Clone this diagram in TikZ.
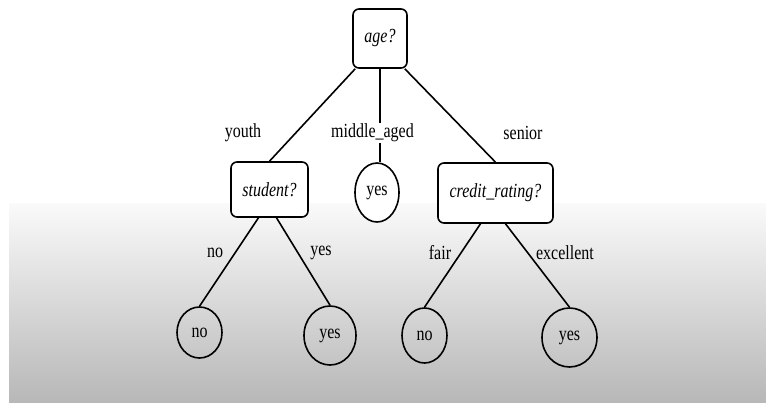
\documentclass[tikz,border=0pt]{standalone}
\usepackage{fontspec}
\setmainfont{Liberation Serif}[FakeStretch=0.8]
\usetikzlibrary{shapes.geometric}
\begin{document}
\begin{tikzpicture}[x=1pt,y=-1pt,
  every node/.style={font=\fontsize{20}{22}\selectfont},
  testbox/.style={draw,fill=white,line width=1.6pt,rounded corners=6pt,inner sep=0pt,font=\fontsize{20}{22}\selectfont\itshape},
  leaf/.style={draw,ellipse,line width=1.6pt,inner sep=0pt},
  lbl/.style={inner sep=1pt},
  edge/.style={line width=1.6pt}]
\useasboundingbox (0,0) rectangle (766,402);
\shade[top color=white!98!black,bottom color=black!28] (9,203) rectangle (766,402);
% internal nodes
\node[testbox,minimum width=54,minimum height=59] (age) at (380,38.5) {age?};
\node[testbox,minimum width=77,minimum height=55] (student) at (269.5,189.5) {student?};
\node[testbox,minimum width=115,minimum height=60] (credit) at (495.5,193) {credit\_rating?};
% leaves
\node[leaf,fill=white,minimum width=44,minimum height=59] (yesm) at (377,192.5) {yes};
\node[leaf,minimum width=45,minimum height=51] (no1) at (199.5,332.5) {no};
\node[leaf,minimum width=52,minimum height=59] (yes1) at (330,335.5) {yes};
\node[leaf,minimum width=45,minimum height=55] (no2) at (424.5,335.5) {no};
\node[leaf,minimum width=55,minimum height=59] (yes2) at (569.5,337.5) {yes};
% labels
\node[lbl] (youth) at (243,133) {youth};
\node[lbl] (mid) at (372.5,133) {middle\_aged};
\node[lbl] (senior) at (523,133) {senior};
\node[lbl] (lno) at (215,253) {no};
\node[lbl] (lyes) at (321,253) {yes};
\node[lbl] (lfair) at (440,253) {fair};
\node[lbl] (lexc) at (565,253) {excellent};
% edges
\draw[edge] ([xshift=3]age.south west) -- (student.north);
\draw[edge] ([xshift=-3]age.south east) -- (credit.north);
\draw[edge] (age.south) -- (age.south |- mid.north);
\draw[edge] (age.south |- mid.south) -- (age.south |- yesm.north);
\draw[edge] ([xshift=-11]student.south) -- (no1.north);
\draw[edge] ([xshift=7]student.south) -- (yes1.north);
\draw[edge] ([xshift=-15]credit.south) -- (no2.north);
\draw[edge] ([xshift=10]credit.south) -- (yes2.north);
\end{tikzpicture}
\end{document}
